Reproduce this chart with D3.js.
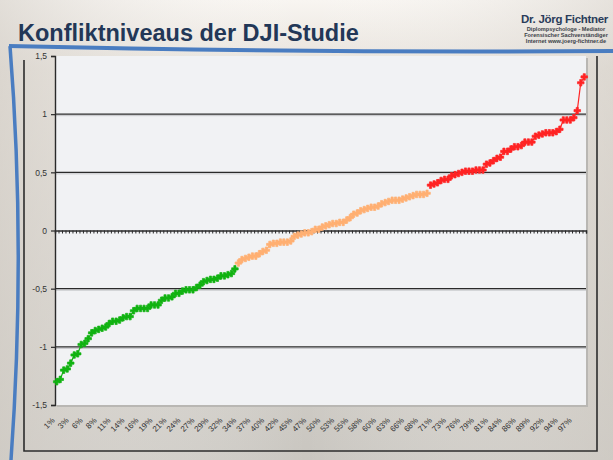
<!DOCTYPE html>
<html>
<head>
<meta charset="utf-8">
<script src="https://cdn.jsdelivr.net/npm/d3@7"></script>
<style>
  body { margin: 0; background: #e4e0da; }
  svg { display: block; font-family: "Liberation Sans", Arial, sans-serif; }
</style>
</head>
<body>
<div id="vis"></div>
<script>
'use strict'

////////////////////////////////////////
/////////////// Data ///////////////////
////////////////////////////////////////

// sorted conflict scores, split in three groups (low / middle / high)
const greenValues = [
  -1.30, -1.28, -1.20, -1.19, -1.14, -1.07, -1.06, -0.98, -0.97, -0.93,
  -0.88, -0.86, -0.85, -0.84, -0.83, -0.80, -0.78, -0.78, -0.77, -0.75,
  -0.74, -0.74, -0.69, -0.67, -0.67, -0.67, -0.67, -0.64, -0.64, -0.64,
  -0.60, -0.58, -0.58, -0.57, -0.54, -0.54, -0.52, -0.51, -0.51, -0.51,
  -0.49, -0.47, -0.44, -0.43, -0.42, -0.42, -0.41, -0.39, -0.39, -0.38,
  -0.37, -0.33
];
const orangeValues = [
  -0.28, -0.25, -0.24, -0.23, -0.22, -0.22, -0.20, -0.18, -0.17, -0.12,
  -0.11, -0.11, -0.10, -0.10, -0.10, -0.09, -0.05, -0.04, -0.03, -0.02,
  -0.02, -0.01, 0.01, 0.01, 0.03, 0.04, 0.05, 0.06, 0.06, 0.07,
  0.07, 0.09, 0.11, 0.14, 0.15, 0.17, 0.18, 0.19, 0.20, 0.20,
  0.21, 0.23, 0.24, 0.25, 0.26, 0.26, 0.26, 0.27, 0.28, 0.29,
  0.30, 0.31, 0.31, 0.31, 0.32
];
const redValues = [
  0.39, 0.40, 0.41, 0.43, 0.44, 0.44, 0.47, 0.48, 0.49, 0.50,
  0.51, 0.51, 0.51, 0.52, 0.52, 0.52, 0.57, 0.58, 0.60, 0.62,
  0.63, 0.68, 0.68, 0.70, 0.72, 0.72, 0.73, 0.76, 0.76, 0.76,
  0.81, 0.82, 0.83, 0.84, 0.84, 0.84, 0.85, 0.87, 0.95, 0.95,
  0.95, 0.97, 1.03, 1.27, 1.32
];

// category labels, one every 4th case
const xLabels = [
  "1%", "3%", "6%", "8%", "11%", "14%", "16%", "19%", "21%", "24%",
  "27%", "29%", "32%", "34%", "37%", "40%", "42%", "45%", "47%", "50%",
  "53%", "55%", "58%", "60%", "63%", "66%", "68%", "71%", "73%", "76%",
  "79%", "81%", "84%", "86%", "89%", "92%", "94%", "97%"
];
const labelEvery = 4;

const yTicks = [-1.5, -1, -0.5, 0, 0.5, 1, 1.5];
const gridValues = [-1, -0.5, 0.5, 1];

////////////////////////////////////////
/////////////// Options ////////////////
////////////////////////////////////////

const options = {
  width: 613,
  height: 460,
  plot: { left: 55, right: 586, top: 56, bottom: 405 },
  frame: { left: 24, right: 597, top: 60, bottom: 451 },
  colors: { green: "#12b312", orange: "#ffb073", red: "#ff2424" },
  title: "Konfliktniveaus der DJI-Studie"
}

////////////////////////////////////////
////////////// SVG Setup ///////////////
////////////////////////////////////////

const svg = d3.select('#vis').append('svg')
  .attr('width', options.width)
  .attr('height', options.height);

const defs = svg.append('defs');

const bg = defs.append('linearGradient')
  .attr('id', 'bg').attr('x1', 0).attr('y1', 0).attr('x2', 0).attr('y2', 1);
bg.append('stop').attr('offset', '0%').attr('stop-color', '#f8f5f1');
bg.append('stop').attr('offset', '15%').attr('stop-color', '#e6e1da');
bg.append('stop').attr('offset', '100%').attr('stop-color', '#c9c6c0');

const side = defs.append('linearGradient')
  .attr('id', 'side').attr('x1', 0).attr('y1', 0).attr('x2', 1).attr('y2', 0);
side.append('stop').attr('offset', '0%').attr('stop-color', '#d4cfc8').attr('stop-opacity', 0.6);
side.append('stop').attr('offset', '50%').attr('stop-color', '#ffffff').attr('stop-opacity', 0);
side.append('stop').attr('offset', '100%').attr('stop-color', '#d4cfc8').attr('stop-opacity', 0.5);

svg.append('rect')
  .attr('width', options.width).attr('height', options.height)
  .attr('fill', 'url(#bg)');
svg.append('rect')
  .attr('width', options.width).attr('height', options.height)
  .attr('fill', 'url(#side)');

////////////////////////////////////////
////////////// Header //////////////////
////////////////////////////////////////

svg.append('text')
  .attr('x', 18).attr('y', 41)
  .attr('font-size', 23.5).attr('font-weight', 'bold')
  .attr('fill', '#223757')
  .text(options.title);

const logo = svg.append('g').attr('fill', '#2a3c5a');
logo.append('text')
  .attr('x', 608).attr('y', 23).attr('text-anchor', 'end')
  .attr('font-size', 11.5).attr('font-weight', 'bold')
  .attr('letter-spacing', -0.3)
  .text('Dr. Jörg Fichtner');

const logoLines = ['Diplompsychologe  -  Mediator', 'Forensischer Sachverständiger', 'Internet www.joerg-fichtner.de'];
logo.selectAll('.sub')
  .data(logoLines)
  .join('text')
  .attr('class', 'sub')
  .attr('x', 566).attr('y', (d, i) => 31 + i * 6.2)
  .attr('text-anchor', 'middle')
  .attr('font-size', 5.6)
  .attr('font-weight', 'bold')
  .attr('fill', '#3b3f48')
  .text(d => d);

////////////////////////////////////////
////////////// Frame ///////////////////
////////////////////////////////////////

const f = options.frame;
svg.append('path')
  .attr('d', `M${f.left},${f.top}V${f.bottom}H${f.right}V${f.top - 4}`)
  .attr('fill', 'none')
  .attr('stroke', '#2c2c2c')
  .attr('stroke-width', 1.6);

////////////////////////////////////////
////////////// Scales //////////////////
////////////////////////////////////////

const p = options.plot;
const n = greenValues.length + orangeValues.length + redValues.length;

const x = d3.scalePoint()
  .domain(d3.range(n))
  .range([p.left, p.right])
  .padding(0.5);

const xEdge = d3.scaleLinear()
  .domain([0, n])
  .range([p.left, p.right]);

const y = d3.scaleLinear()
  .domain([-1.5, 1.5])
  .range([p.bottom, p.top]);

////////////////////////////////////////
////////////// Plot area ///////////////
////////////////////////////////////////

svg.append('rect')
  .attr('x', p.left + 2).attr('y', p.top + 2)
  .attr('width', p.right - p.left).attr('height', p.bottom - p.top)
  .attr('fill', '#b9b7b3');

svg.append('rect')
  .attr('x', p.left).attr('y', p.top)
  .attr('width', p.right - p.left).attr('height', p.bottom - p.top)
  .attr('fill', '#f1f2f4');

// gridlines with a soft shadow
const grid = svg.append('g');
grid.selectAll('.shadow')
  .data(gridValues)
  .join('line')
  .attr('class', 'shadow')
  .attr('x1', p.left).attr('x2', p.right)
  .attr('y1', d => y(d) + 1.5).attr('y2', d => y(d) + 1.5)
  .attr('stroke', '#c4c5c8').attr('stroke-width', 1);
grid.selectAll('.line')
  .data(gridValues)
  .join('line')
  .attr('class', 'line')
  .attr('x1', p.left).attr('x2', p.right)
  .attr('y1', d => y(d)).attr('y2', d => y(d))
  .attr('stroke', '#2a2a2a').attr('stroke-width', 1.3);

// category axis crossing at 0
const zeroAxis = svg.append('g')
  .attr('transform', `translate(0,${y(0)})`)
  .call(d3.axisBottom(xEdge).tickValues(d3.range(n + 1)).tickSize(3).tickFormat(''));
zeroAxis.select('.domain').attr('stroke', '#2a2a2a').attr('stroke-width', 1.5);
zeroAxis.selectAll('.tick line').attr('stroke', '#2a2a2a');

// value axis
const yAxis = svg.append('g')
  .attr('transform', `translate(${p.left},0)`)
  .call(d3.axisLeft(y)
    .tickValues(yTicks)
    .tickSize(4)
    .tickPadding(4)
    .tickFormat(d => String(d).replace('.', ',')));
yAxis.select('.domain').attr('stroke', '#2a2a2a').attr('stroke-width', 1.4);
yAxis.selectAll('.tick line').attr('stroke', '#2a2a2a').attr('stroke-width', 1.2);
yAxis.selectAll('text')
  .attr('font-size', 8.5)
  .attr('font-family', '"Liberation Sans", Arial, sans-serif')
  .attr('fill', '#333');

// category labels, rotated
const xAxis = svg.append('g')
  .attr('transform', `translate(0,${p.bottom})`)
  .call(d3.axisBottom(x)
    .tickValues(d3.range(0, n, labelEvery))
    .tickSize(0)
    .tickFormat((d, i) => xLabels[i]));
xAxis.select('.domain').remove();
xAxis.selectAll('text')
  .attr('font-size', 8)
  .attr('font-family', '"Liberation Sans", Arial, sans-serif')
  .attr('fill', '#333')
  .attr('text-anchor', 'end')
  .attr('x', 0).attr('y', 0).attr('dy', '0.35em')
  .attr('transform', 'translate(-4,14) rotate(-45)');

////////////////////////////////////////
////////////// Series //////////////////
////////////////////////////////////////

const series = [
  { color: options.colors.green, values: greenValues, start: 0 },
  { color: options.colors.orange, values: orangeValues, start: greenValues.length },
  { color: options.colors.red, values: redValues, start: greenValues.length + orangeValues.length }
];

const line = d3.line()
  .x((d, i) => x(d.i))
  .y(d => y(d.v));

const marker = d3.symbol().type(d3.symbolCross).size(24);

series.forEach(s => {
  const pts = s.values.map((v, k) => ({ i: s.start + k, v: v }));

  svg.append('path')
    .datum(pts)
    .attr('fill', 'none')
    .attr('stroke', s.color)
    .attr('stroke-width', 1.2)
    .attr('d', line);

  svg.append('g')
    .selectAll('path')
    .data(pts)
    .join('path')
    .attr('transform', d => `translate(${x(d.i)},${y(d.v)})`)
    .attr('d', marker)
    .attr('fill', s.color)
    .attr('stroke', s.color)
    .attr('stroke-width', 0.7);
});

////////////////////////////////////////
////////////// Swoosh //////////////////
////////////////////////////////////////

svg.append('path')
  .attr('d', 'M9,46 Q300,53 613,51')
  .attr('fill', 'none')
  .attr('stroke', '#4a7dc1')
  .attr('stroke-width', 4);

svg.append('path')
  .attr('d', 'M10,46 Q26,250 11,460')
  .attr('fill', 'none')
  .attr('stroke', '#4a7dc1')
  .attr('stroke-width', 3.5);
</script>
</body>
</html>
